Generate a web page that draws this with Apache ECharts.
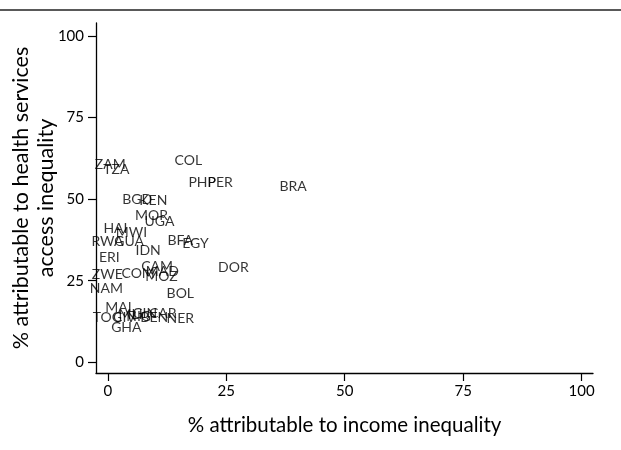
<!DOCTYPE html>
<html>
<head>
<meta charset="utf-8">
<script src="https://cdn.jsdelivr.net/npm/echarts@6/dist/echarts.min.js"></script>
<style>
html,body{margin:0;padding:0;background:#fff;}
#chart{width:621px;height:450px;}
</style>
</head>
<body>
<div id="chart"></div>
<script>
// Country codes and values (% attributable to income inequality, % attributable to health services access inequality)
var countries = ["ZAM","TZA","COL","PHP","PER","BRA","BGD","KEN","MOR","UGA","HAI","MWI","RWA","GUA","BFA","EGY","IDN","ERI","DOR","CAM","MAD","COM","ZWE","MOZ","NAM","BOL","MAL","TOG","BEN","NER","CAR","GHA","MLI","NIG","CIV","GIN"];
var incomeShare = [0.5,1.8,17,19.9,23.7,39.1,6.2,9.6,9.2,10.9,1.6,5.0,-0.1,4.5,15.3,18.5,8.5,0.3,26.5,10.4,11.5,6.4,-0.1,11.3,-0.3,15.3,2.6,-0.1,9.8,15.3,11.6,3.9,4.8,6.5,3.5,7.8];
var accessShare = [60.5,59,61.7,55,55,53.8,49.8,49.5,44.9,43,40.9,39.7,36.9,36.9,37.2,36.3,34.2,32,29,29.3,27.8,27.2,26.8,26.2,22.6,21,16.7,13.7,13.7,13.4,14.8,10.6,14.6,14.0,13.8,14.9];
var tickValues = [0,25,50,75,100];

var data = countries.map(function(c,i){ return [incomeShare[i], accessShare[i], c]; });
var FONT = "Lato";
var chart = echarts.init(document.getElementById('chart'), null, {renderer:'canvas'});
chart.setOption({
  animation:false,
  backgroundColor:'#fff',
  textStyle:{fontFamily:FONT},
  grid:{left:96,right:28,top:23,bottom:77,containLabel:false,outerBoundsMode:'none'},
  graphic:[{type:'line',shape:{x1:0,y1:10,x2:621,y2:10},style:{stroke:'#222',lineWidth:1.5},silent:true}],
  xAxis:{
    type:'value',min:-2.5,max:102.4,
    name:'% attributable to income inequality',
    nameLocation:'middle',nameGap:42,nameMoveOverlap:false,
    nameTextStyle:{fontFamily:FONT,fontSize:20.5,color:'#000'},
    axisLine:{show:true,onZero:false,lineStyle:{color:'#000',width:1.3}},
    axisTick:{show:true,length:8,customValues:tickValues,lineStyle:{color:'#000',width:1.2}},
    axisLabel:{show:true,customValues:tickValues,margin:11,fontFamily:FONT,fontSize:15,color:'#000'},
    splitLine:{show:false}
  },
  yAxis:{
    type:'value',min:-3.3,max:104,
    name:'% attributable to health services\naccess inequality',
    nameLocation:'middle',nameGap:37,nameRotate:90,nameMoveOverlap:false,
    nameTextStyle:{fontFamily:FONT,fontSize:21.5,color:'#000',lineHeight:25,align:'center'},
    axisLine:{show:true,onZero:false,lineStyle:{color:'#000',width:1.3}},
    axisTick:{show:true,length:8,customValues:tickValues,lineStyle:{color:'#000',width:1.2}},
    axisLabel:{show:true,customValues:tickValues,margin:12,fontFamily:FONT,fontSize:15,color:'#000'},
    splitLine:{show:false}
  },
  series:[{
    type:'scatter',
    data:data,
    symbol:'circle',symbolSize:1,
    itemStyle:{color:'rgba(0,0,0,0)'},
    label:{show:true,position:'inside',formatter:function(p){return p.data[2];},fontFamily:FONT,fontSize:14,color:'#000'},
    labelLayout:{hideOverlap:false}
  }]
});
</script>
</body>
</html>
